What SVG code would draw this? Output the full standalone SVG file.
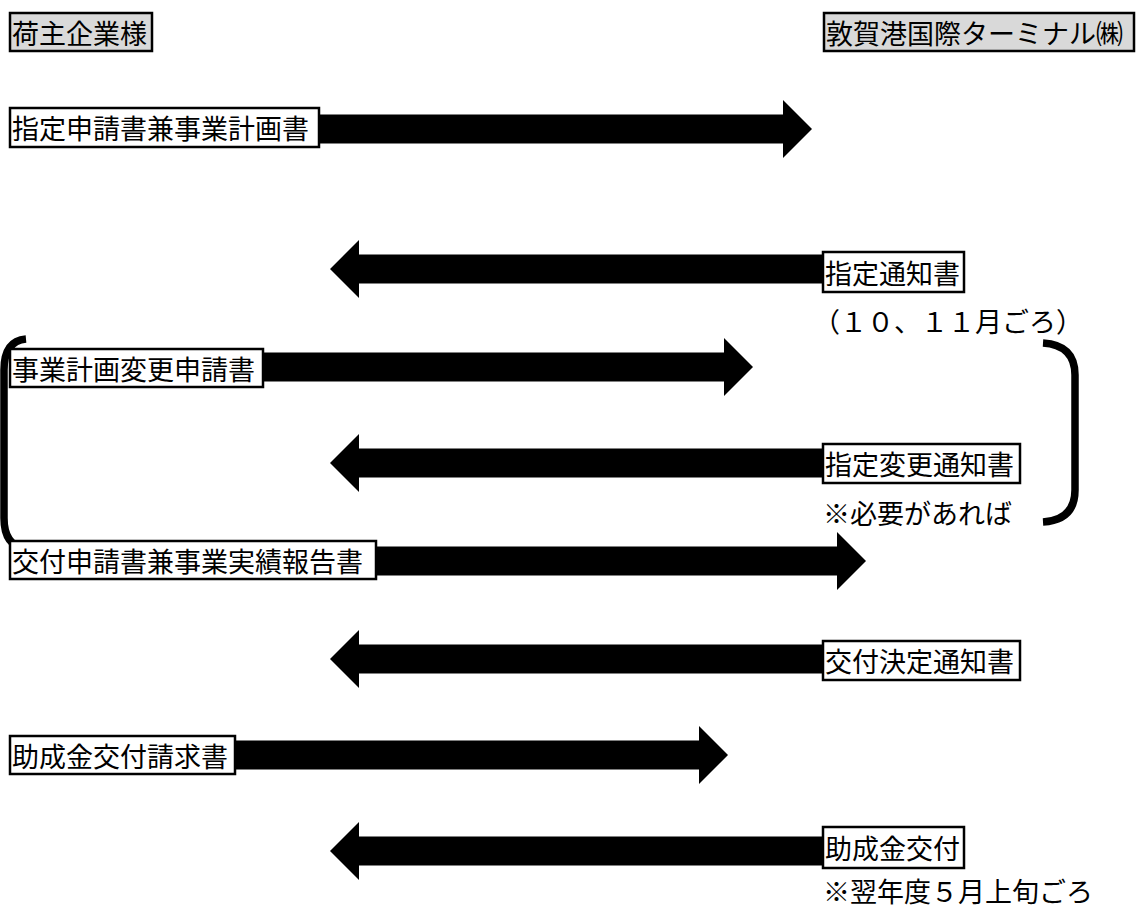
<svg xmlns="http://www.w3.org/2000/svg" width="1137" height="909" viewBox="0 0 1137 909">
<style>
text{font-family:"Noto Sans CJK JP","Noto Sans CJK SC",sans-serif;font-size:27px;fill:#000;dominant-baseline:central}
.box{fill:#fff;stroke:#000;stroke-width:2.5}
.hdr{fill:#d9d9d9;stroke:#000;stroke-width:2.5}
.arr{fill:#000}
.br{fill:none;stroke:#000;stroke-width:7.5;stroke-linecap:butt}
</style>
<rect width="1137" height="909" fill="#fff"/>
<g id="connectors">
<polygon class="arr" points="319,114.5 783,114.5 783,100 812,129 783,158 783,143.5 319,143.5"/>
<polygon class="arr" points="823,254.5 359,254.5 359,240 330,269 359,298 359,283.5 823,283.5"/>
<polygon class="arr" points="263,352.5 724,352.5 724,338 753,367 724,396 724,381.5 263,381.5"/>
<polygon class="arr" points="823,448.5 359,448.5 359,434 330,463 359,492 359,477.5 823,477.5"/>
<polygon class="arr" points="376,546.5 837,546.5 837,532 866,561 837,590 837,575.5 376,575.5"/>
<polygon class="arr" points="823,644.5 359,644.5 359,630 330,659 359,688 359,673.5 823,673.5"/>
<polygon class="arr" points="235,740.5 699,740.5 699,726 728,755 699,784 699,769.5 235,769.5"/>
<polygon class="arr" points="823,836.5 359,836.5 359,822 330,851 359,880 359,865.5 823,865.5"/>
<path class="br" d="M26,339 Q4,341 4,370 L4,518 Q4,546 26,549"/>
<path class="br" d="M1043,343 Q1075,345 1075,375 L1075,490 Q1075,520 1043,522"/>
</g>
<g id="n-shipper"><rect class="hdr" x="10" y="13" width="142" height="38"/><text x="12" y="32">荷主企業様</text></g>
<g id="n-terminal"><rect class="hdr" x="824" y="13" width="310" height="38"/><text x="826" y="32">敦賀港国際ターミナル㈱</text></g>
<g id="n-apply"><rect class="box" x="10" y="108" width="309" height="39"/><text x="12" y="127.5">指定申請書兼事業計画書</text></g>
<g id="n-notice"><rect class="box" x="823" y="252" width="141" height="40"/><text x="825" y="272">指定通知書</text></g>
<g id="n-note1"><text x="813" y="320">（１０、１１月ごろ）</text></g>
<g id="n-change"><rect class="box" x="10" y="349" width="253" height="38"/><text x="12" y="368">事業計画変更申請書</text></g>
<g id="n-changenotice"><rect class="box" x="823" y="444" width="197" height="39"/><text x="825" y="463.5">指定変更通知書</text></g>
<g id="n-note2"><text x="823" y="512">※必要があれば</text></g>
<g id="n-grant"><rect class="box" x="10" y="541" width="366" height="38"/><text x="12" y="560">交付申請書兼事業実績報告書</text></g>
<g id="n-decision"><rect class="box" x="823" y="641" width="197" height="39"/><text x="825" y="660.5">交付決定通知書</text></g>
<g id="n-claim"><rect class="box" x="10" y="736" width="225" height="38"/><text x="12" y="755">助成金交付請求書</text></g>
<g id="n-pay"><rect class="box" x="823" y="827" width="141" height="41"/><text x="825" y="847.5">助成金交付</text></g>
<g id="n-note3"><text x="823" y="890">※翌年度５月上旬ごろ</text></g>
</svg>
